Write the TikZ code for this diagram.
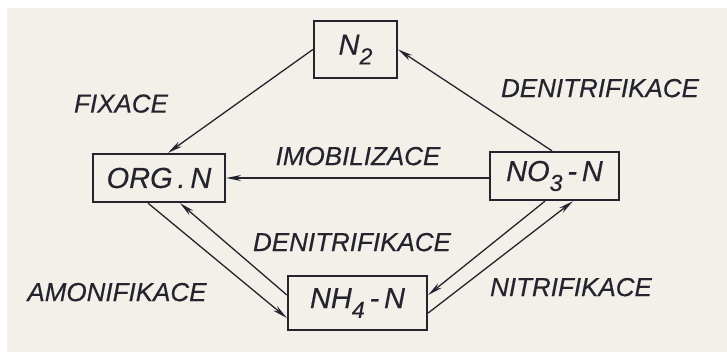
\documentclass[tikz,border=0pt]{standalone}
\usepackage{fontspec}
% slightly heavier strokes for the lettering
\setmainfont{Liberation Sans}[ItalicFeatures={FakeBold=0.35}]
\usetikzlibrary{arrows.meta,calc}
\definecolor{paper}{RGB}{243,239,233}
\definecolor{ink}{RGB}{36,36,46}
% lowered, smaller index digit for chemical formulas
\newcommand\idx[1]{\raisebox{-0.34em}{\scalebox{0.8}{#1}}}

\begin{document}
\begin{tikzpicture}[x=1pt,y=-1pt,
  pool/.style={draw=ink, line width=2.3pt, inner sep=0pt, text=ink,
    font=\itshape\fontsize{29}{29}\selectfont},
  flow/.style={draw=ink, line width=1.3pt, -{Stealth[length=15pt,width=6pt]}},
  proc/.style={text=ink, inner sep=0pt, text depth=0pt,
    font=\itshape\fontsize{26}{26}\selectfont}]

% paper
\useasboundingbox (0,0) rectangle (727,352);
\fill[white] (0,0) rectangle (727,352);
\fill[paper] (7,8) rectangle (727,352);

% nitrogen pools
\node[pool, minimum width=83pt, minimum height=57pt] (n2)  at (355.5,49.5) {N\idx{2}};
\node[pool, minimum width=132pt, minimum height=48pt] (org) at (159,178) {ORG\,.\,N};
\node[pool, minimum width=129pt, minimum height=48pt] (no3) at (554.5,176) {NO\idx{3}\,-\,N};
\node[pool, minimum width=139pt, minimum height=54pt] (nh4) at (357.5,303) {NH\idx{4}\,-\,N};

% transformations
\draw[flow] (n2.west) -- ([xshift=9pt]org.north);
\draw[flow] ([xshift=-2.5pt]no3.north) -- (n2.east);
\draw[flow] (org.east -| no3.west) -- (org.east);
\draw[flow] ([xshift=-11pt]org.south) -- ([yshift=-15pt]nh4.west);
\draw[flow] ([yshift=8pt]nh4.west) -- ([xshift=21pt]org.south);
\draw[flow] ([xshift=-9.5pt]no3.south) -- ([yshift=8pt]nh4.east);
\draw[flow] ([yshift=-10pt]nh4.east) -- ([xshift=18.5pt]no3.south);

% process names
\node[proc] (lfix) at (121,103.5) {FIXACE};
\node[proc] (lden1) at (600,88) {DENITRIFIKACE};
\node[proc] (limo) at (358,156) {IMOBILIZACE};
\node[proc] (lden2) at (352,242) {DENITRIFIKACE};
\node[proc] (lamo) at (117,292) {AMONIFIKACE};
\node[proc] (lnit) at (571,287) {NITRIFIKACE};
\end{tikzpicture}
\end{document}
